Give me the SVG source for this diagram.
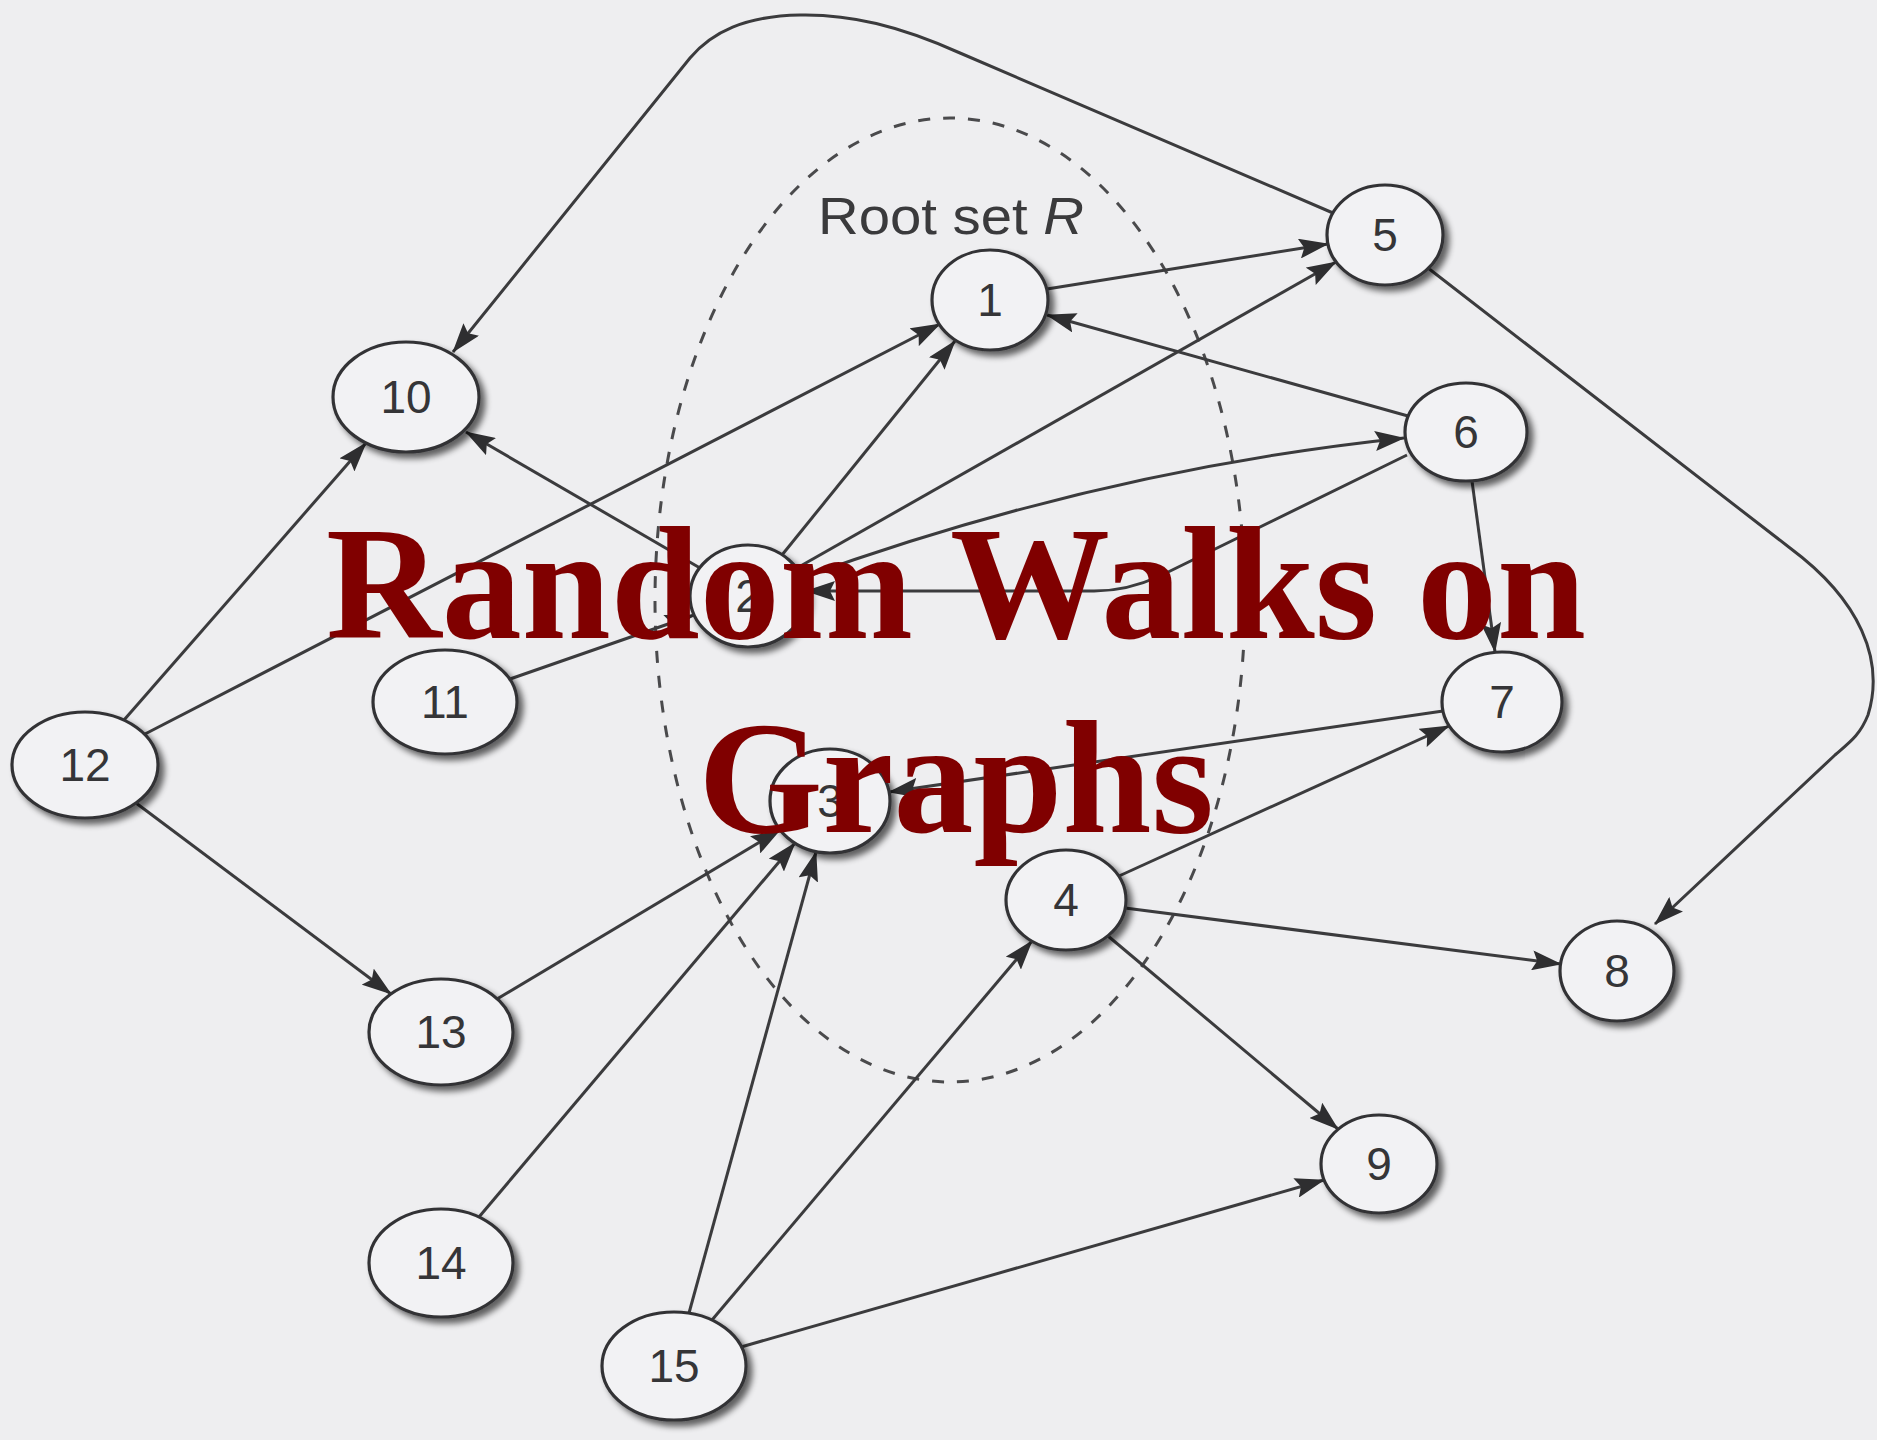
<svg xmlns="http://www.w3.org/2000/svg" width="1877" height="1440" viewBox="0 0 1877 1440">
<defs>
<style>
.bg{fill:#eeeef0}
.edge{fill:none;stroke:#3b3b3d;stroke-width:3;marker-end:url(#arr)}
.node ellipse{fill:#f2f2f4;stroke:#333335;stroke-width:3.2;filter:url(#sh)}
.node text{font-family:"Liberation Sans",Arial,sans-serif;font-size:46px;fill:#353537;text-anchor:middle}
.root{fill:none;stroke:#4a4a4c;stroke-width:3;stroke-dasharray:12 13}
.rlabel{font-family:"Liberation Sans",Arial,sans-serif;font-size:52px;fill:#3a3a3c}
.title{font-family:"Liberation Serif","Times New Roman",serif;font-weight:bold;font-size:160px;fill:#800000;text-anchor:middle}
</style>
<marker id="arr" viewBox="0 0 30 20" refX="29" refY="10" markerWidth="30" markerHeight="20" markerUnits="userSpaceOnUse" orient="auto">
<path d="M0,0 L30,10 L0,20 L5,10 z" fill="#2e2e30"/>
</marker>
<filter id="sh" x="-20%" y="-20%" width="150%" height="150%">
<feGaussianBlur in="SourceAlpha" stdDeviation="3"/>
<feOffset dx="5" dy="5" result="b"/>
<feComponentTransfer><feFuncA type="linear" slope="0.6"/></feComponentTransfer>
<feMerge><feMergeNode/><feMergeNode in="SourceGraphic"/></feMerge>
</filter>
</defs>
<rect class="bg" x="0" y="0" width="1877" height="1440"/>

<ellipse id="root-set" class="root" cx="950" cy="600" rx="295" ry="482"/>

<g id="connectors">
<path class="edge" d="M1333,213 L960,53 C900,26 850,14 800,15 C745,16 712,32 690,58 L453,352"/>
<path class="edge" d="M1428,268 L1790,548 C1860,600 1885,660 1868,715 C1860,735 1850,742 1835,755 L1655,924"/>
<path class="edge" d="M1047,289 L1328,244"/>
<path class="edge" d="M1408,416 L1047,315"/>
<path class="edge" d="M797,568 L1336,262"/>
<path class="edge" d="M782,555 L955,341"/>
<path class="edge" d="M145,734 L940,324"/>
<path class="edge" d="M700,568 L466,432"/>
<path class="edge" d="M124,720 L366,443"/>
<path class="edge" d="M136,803 L391,994"/>
<path class="edge" d="M510,679 L694,615"/>
<path class="edge" d="M802,578 Q1100,470 1404,438"/>
<path class="edge" d="M1407,455 L1160,576 Q1125,592 1090,591 L806,591"/>
<path class="edge" d="M1472,481 L1495,652"/>
<path class="edge" d="M1443,711 L889,792"/>
<path class="edge" d="M1119,876 L1449,726"/>
<path class="edge" d="M1125,908 L1561,964"/>
<path class="edge" d="M1108,936 L1338,1129"/>
<path class="edge" d="M741,1347 L1324,1180"/>
<path class="edge" d="M712,1320 L1032,941"/>
<path class="edge" d="M689,1313 L816,852"/>
<path class="edge" d="M479,1217 L795,843"/>
<path class="edge" d="M497,999 L780,830"/>
</g>

<g id="node-1" class="node"><ellipse cx="990" cy="300" rx="58" ry="50"/><text x="990" y="316">1</text></g>
<g id="node-2" class="node"><ellipse cx="748" cy="596" rx="58" ry="51"/><text x="748" y="612">2</text></g>
<g id="node-3" class="node"><ellipse cx="830" cy="801" rx="60" ry="52"/><text x="830" y="817">3</text></g>
<g id="node-4" class="node"><ellipse cx="1066" cy="900" rx="60" ry="50"/><text x="1066" y="916">4</text></g>
<g id="node-5" class="node"><ellipse cx="1385" cy="235" rx="58" ry="50"/><text x="1385" y="251">5</text></g>
<g id="node-6" class="node"><ellipse cx="1466" cy="432" rx="61" ry="49"/><text x="1466" y="448">6</text></g>
<g id="node-7" class="node"><ellipse cx="1502" cy="702" rx="60" ry="50"/><text x="1502" y="718">7</text></g>
<g id="node-8" class="node"><ellipse cx="1617" cy="971" rx="57" ry="50"/><text x="1617" y="987">8</text></g>
<g id="node-9" class="node"><ellipse cx="1379" cy="1164" rx="58" ry="49"/><text x="1379" y="1180">9</text></g>
<g id="node-10" class="node"><ellipse cx="406" cy="397" rx="73" ry="55"/><text x="406" y="413">10</text></g>
<g id="node-11" class="node"><ellipse cx="445" cy="702" rx="72" ry="52"/><text x="445" y="718">11</text></g>
<g id="node-12" class="node"><ellipse cx="85" cy="765" rx="73" ry="53"/><text x="85" y="781">12</text></g>
<g id="node-13" class="node"><ellipse cx="441" cy="1032" rx="72" ry="53"/><text x="441" y="1048">13</text></g>
<g id="node-14" class="node"><ellipse cx="441" cy="1263" rx="72" ry="54"/><text x="441" y="1279">14</text></g>
<g id="node-15" class="node"><ellipse cx="674" cy="1366" rx="72" ry="54"/><text x="674" y="1382">15</text></g>

<text id="root-label" class="rlabel" x="818" y="234" textLength="266" lengthAdjust="spacingAndGlyphs">Root set <tspan font-style="italic">R</tspan></text>

<g id="title">
<text class="title" x="956" y="638">Random Walks on</text>
<text class="title" x="956" y="832">Graphs</text>
</g>
</svg>
